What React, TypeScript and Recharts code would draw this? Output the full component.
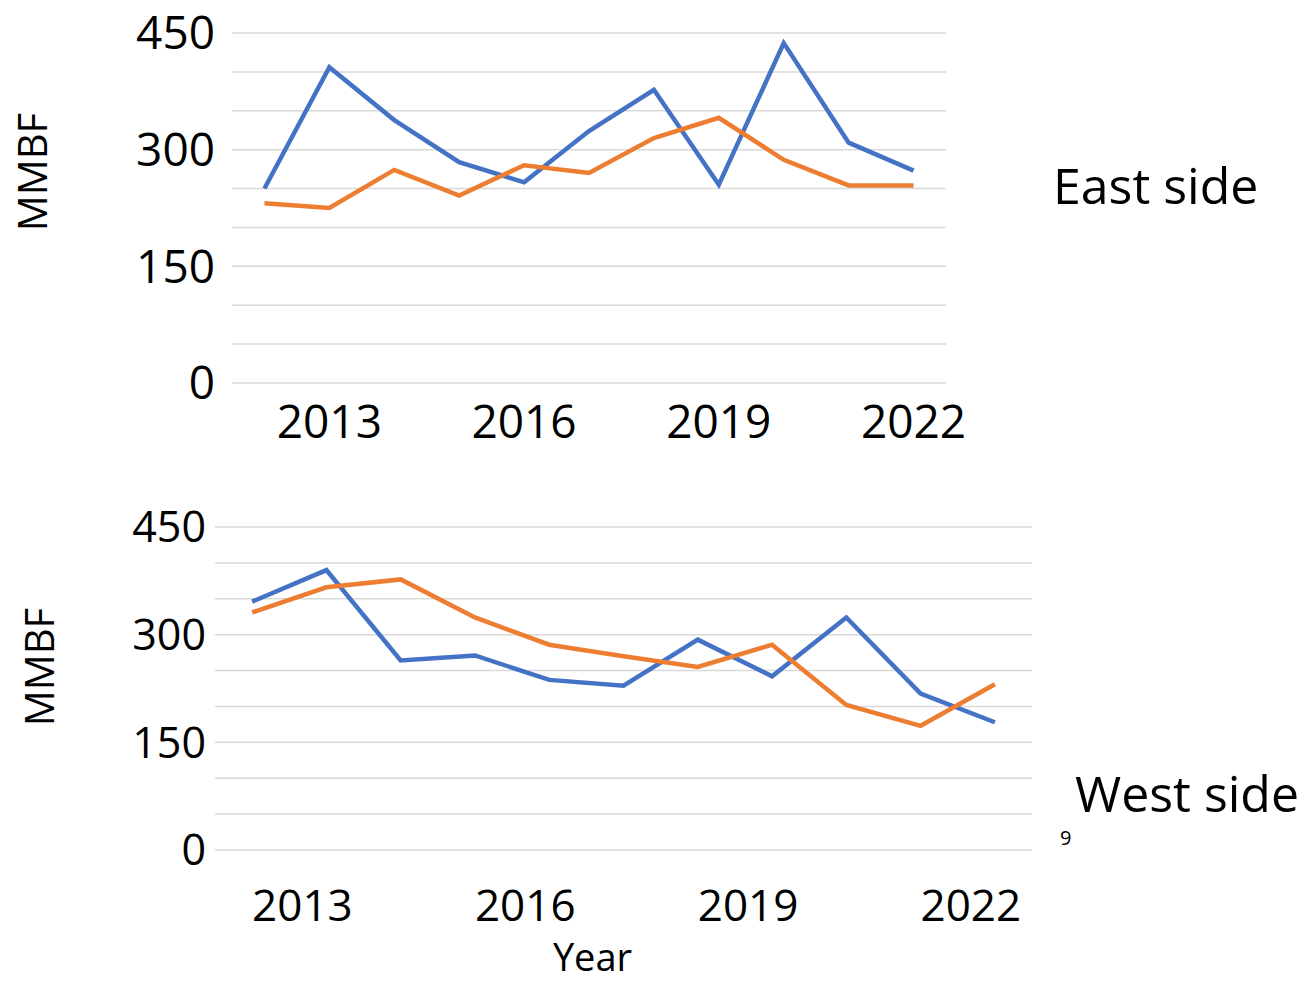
import React from "react";
import { LineChart, Line, XAxis, YAxis, CartesianGrid } from "recharts";

const years = [2012, 2013, 2014, 2015, 2016, 2017, 2018, 2019, 2020, 2021, 2022];
const eastBlue = [250, 406, 338, 284, 258, 324, 377, 255, 437, 309, 273];
const eastOrange = [231, 225, 274, 241, 280, 270, 315, 341, 287, 254, 254];
const westBlue = [346, 390, 264, 271, 237, 229, 293, 242, 324, 218, 178];
const westOrange = [331, 366, 377, 324, 286, 270, 255, 286, 202, 173, 231];

const yTicks = [0, 50, 100, 150, 200, 250, 300, 350, 400, 450];
const yLabelTicks = [0, 150, 300, 450];
const xTicks = [2013, 2016, 2019, 2022];

const FONT = "'Open Sans', sans-serif";
const BLUE = "#4472c4";
const ORANGE = "#ed7d31";

const eastData = years.map((year, i) => ({ year, a: eastBlue[i], b: eastOrange[i] }));
const westData = years.map((year, i) => ({ year, a: westBlue[i], b: westOrange[i] }));

function Panel({
  data,
  width,
  height,
  margin,
  yWidth,
  yFont,
  yMargin,
  xFont,
  xMargin,
  xHeight,
  xDx,
  xTitle,
}: {
  data: { year: number; a: number; b: number }[];
  width: number;
  height: number;
  margin: { top: number; right: number; bottom: number; left: number };
  yWidth: number;
  yFont: number;
  yMargin: number;
  xFont: number;
  xMargin: number;
  xHeight: number;
  xDx: number;
  xTitle?: string;
}) {
  return (
    <LineChart width={width} height={height} data={data} margin={margin}>
      <CartesianGrid vertical={false} stroke="#d9d9d9" strokeWidth={1.5} />
      <XAxis
        dataKey="year"
        type="number"
        domain={[2011.5, 2022.5]}
        ticks={xTicks}
        axisLine={false}
        tickLine={false}
        height={xHeight}
        tickMargin={xMargin}
        tick={{ fontSize: xFont, fill: "#000", fontFamily: FONT, dx: xDx }}
        label={
          xTitle
            ? {
                value: xTitle,
                position: "insideBottom",
                offset: 4,
                dx: -31,
                fontSize: 38,
                fill: "#000",
                fontFamily: FONT,
              }
            : undefined
        }
      />
      <YAxis
        domain={[0, 450]}
        ticks={yTicks}
        interval={0}
        width={yWidth}
        axisLine={false}
        tickLine={false}
        tickMargin={yMargin}
        tickFormatter={(v: number) => (yLabelTicks.includes(v) ? String(v) : "")}
        tick={{ fontSize: yFont, fill: "#000", fontFamily: FONT }}
      />
      <Line
        type="linear"
        dataKey="a"
        name="Series A"
        stroke={BLUE}
        strokeWidth={4.5}
        dot={false}
        isAnimationActive={false}
      />
      <Line
        type="linear"
        dataKey="b"
        name="Series B"
        stroke={ORANGE}
        strokeWidth={4.5}
        dot={false}
        isAnimationActive={false}
      />
    </LineChart>
  );
}

const textStyle: React.CSSProperties = {
  position: "absolute",
  fontFamily: FONT,
  color: "#000",
  whiteSpace: "nowrap",
  lineHeight: 1,
};

export default function App() {
  return (
    <div
      style={{
        position: "absolute",
        left: 0,
        top: 0,
        width: 1309,
        height: 981,
        background: "#fff",
        overflow: "hidden",
      }}
    >
      <div style={{ position: "absolute", left: 0, top: 0 }}>
        <Panel
          data={eastData}
          width={1000}
          height={460}
          margin={{ top: 33, right: 54, bottom: 17, left: 0 }}
          yWidth={232}
          yFont={46}
          yMargin={11}
          xFont={46}
          xMargin={16}
          xHeight={60}
          xDx={0}
        />
      </div>
      <div style={{ position: "absolute", left: 0, top: 470 }}>
        <Panel
          data={westData}
          width={1060}
          height={511}
          margin={{ top: 57, right: 28, bottom: 6, left: 0 }}
          yWidth={215}
          yFont={43}
          yMargin={3}
          xFont={44}
          xMargin={34}
          xHeight={125}
          xDx={-24}
          xTitle="Year"
        />
      </div>

      <div
        style={{
          ...textStyle,
          left: 32,
          top: 172,
          fontSize: 40,
          transform: "translate(-50%, -50%) rotate(-90deg)",
        }}
      >
        MMBF
      </div>
      <div
        style={{
          ...textStyle,
          left: 39,
          top: 667,
          fontSize: 40,
          transform: "translate(-50%, -50%) rotate(-90deg)",
        }}
      >
        MMBF
      </div>

      <div style={{ ...textStyle, left: 1053, top: 185, fontSize: 50, transform: "translateY(-50%)" }}>
        East side
      </div>
      <div style={{ ...textStyle, left: 1075, top: 793, fontSize: 50, transform: "translateY(-50%)" }}>
        West side
      </div>
      <div style={{ ...textStyle, left: 1060, top: 838, fontSize: 20, transform: "translateY(-50%)" }}>
        9
      </div>
    </div>
  );
}
